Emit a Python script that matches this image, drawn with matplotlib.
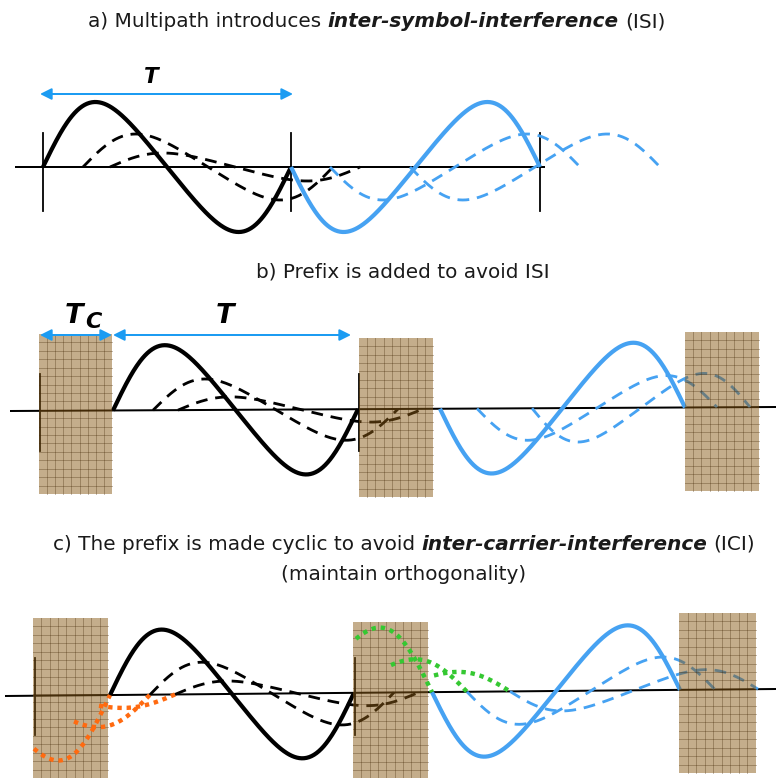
import numpy as np
import matplotlib.pyplot as plt
from matplotlib.patches import Rectangle

W, H = 776, 778

# time axis of each panel: x from, x to, y at left, y at right
axis_a = [15, 545, 167, 167]
axis_b = [10, 776, 411, 407]
axis_c = [5, 776, 696, 689]

# symbol boundary ticks: x positions, y from, y to
ticks_a = [43, 291, 540]
ticks_a_y = [133, 211]
ticks_b = [40, 359]
ticks_b_y = [374, 451]
ticks_c = [35, 355]
ticks_c_y = [658, 735]

# waveforms: start x, period, amplitude (first = direct path, others = delayed echoes)
black_a_start = [43, 83, 110]
black_a_period = [248, 250, 250]
black_a_amp = [65, 33, 14]
blue_a_start = [291, 330, 410]
blue_a_period = [249, 250, 250]
blue_a_amp = [65, 33, 33]

black_b_start = [113, 153, 178]
black_b_period = [245, 245, 245]
black_b_amp = [65, 31, 13]
blue_b_start = [440, 477, 532]
blue_b_period = [245, 240, 218]
blue_b_amp = [65, 32, 34]

black_c_start = [110, 150, 175]
black_c_period = [244, 244, 244]
black_c_amp = [65, 32, 13]
blue_c_start = [432, 467, 510]
blue_c_period = [248, 248, 248]
blue_c_amp = [65, 33, 20]

# cyclic prefix length (px) and guard boxes: x0, x1, y0, y1
cp_len = 76
boxes_b = [[39, 112, 334, 494], [359, 433, 338, 497], [685, 759, 332, 491]]
boxes_c = [[33, 108, 618, 778], [353, 428, 622, 778], [679, 756, 613, 773]]

BLACK = 'black'
BLUE = '#46a2f2'
ARROW = '#1c9cf2'
ORANGE = '#ff6a10'
GREEN = '#35c832'
SKEW = 0.04
PX = 72 / 100  # points per pixel

fig = plt.figure(figsize=(W / 100, H / 100), dpi=100)
ax = fig.add_axes([0, 0, 1, 1])
ax.set_xlim(0, W)
ax.set_ylim(H, 0)
ax.axis('off')
renderer = fig.canvas.get_renderer()


def base(axis, x):
    x0, x1, y0, y1 = axis
    return y0 + (y1 - y0) * (np.asarray(x) - x0) / (x1 - x0)


def wave(axis, start, period, amp, sign, xa, xb, **kw):
    x = np.linspace(xa, xb, 300)
    u = (x - start) / period
    phi = u + SKEW * np.sin(2 * np.pi * u)
    y = base(axis, x) - sign * amp * np.sin(2 * np.pi * phi)
    ax.plot(x, y, **kw)


def draw_axis(axis):
    x0, x1, y0, y1 = axis
    ax.plot([x0, x1], [y0, y1], color='black', lw=2 * PX, zorder=2, solid_capstyle='butt')


def draw_ticks(xs, ys):
    for x in xs:
        ax.plot([x, x], ys, color='black', lw=1.8 * PX, zorder=2)


def draw_group(axis, starts, periods, amps, color, sign):
    for i, (s, p, a) in enumerate(zip(starts, periods, amps)):
        if i == 0:
            wave(axis, s, p, a, sign, s, s + p, color=color, lw=4.2 * PX, zorder=3,
                 solid_capstyle='butt')
        else:
            wave(axis, s, p, a, sign, s, s + p, color=color, lw=2.8 * PX, zorder=3,
                 ls=(0, (4.2, 2.8)))


def draw_prefix(axis, starts, periods, amps, color, sign):
    for s, p, a in zip(starts, periods, amps):
        wave(axis, s, p, a, sign, s - cp_len, s, color=color, lw=4.4 * PX, zorder=7,
             ls=(0, (1, 1.1)), solid_capstyle='butt', dash_capstyle='butt')


def draw_box(x0, x1, y0, y1):
    ax.add_patch(Rectangle((x0, y0), x1 - x0, y1 - y0, facecolor='#8a5c18',
                           edgecolor='none', alpha=0.5, zorder=5))
    ncol = 9
    for gx in np.linspace(x0, x1, ncol + 1)[1:-1]:
        ax.plot([gx, gx], [y0, y1], color='#3f2200', alpha=0.3, lw=1 * PX, zorder=6)
    nrow = int(round((y1 - y0) / 8.3))
    for gy in np.linspace(y0, y1, nrow + 1)[1:-1]:
        ax.plot([x0, x1], [gy, gy], color='#3f2200', alpha=0.3, lw=1 * PX, zorder=6)


def arrow(xa, xb, y):
    ax.annotate('', xy=(xb, y), xytext=(xa, y),
                arrowprops=dict(arrowstyle='<|-|>', color=ARROW, lw=2 * PX,
                                mutation_scale=17, shrinkA=0, shrinkB=0), zorder=8)


def rich(parts, xc, y, size):
    texts = []
    for s, em in parts:
        t = ax.text(0, y, s, fontsize=size, va='baseline', ha='left',
                    fontweight='bold' if em else 'normal',
                    fontstyle='italic' if em else 'normal', color='#1a1a1a')
        texts.append(t)
    gap = 0.318 * size / PX
    widths = [t.get_window_extent(renderer).width for t in texts]
    total = sum(widths) + gap * (len(texts) - 1)
    x = xc - total / 2
    for t, w in zip(texts, widths):
        t.set_x(x)
        x += w + gap


TS = 14.4

# ---- a) ----
rich([('a) Multipath introduces', False), ('inter-symbol-interference', True), ('(ISI)', False)],
     377, 27, TS)
draw_axis(axis_a)
draw_ticks(ticks_a, ticks_a_y)
draw_group(axis_a, black_a_start, black_a_period, black_a_amp, BLACK, 1)
draw_group(axis_a, blue_a_start, blue_a_period, blue_a_amp, BLUE, -1)
arrow(40, 293, 94)
ax.text(151, 83, 'T', fontsize=15.5, fontweight='bold', fontstyle='italic',
        ha='center', va='baseline')

# ---- b) ----
rich([('b) Prefix is added to avoid ISI', False)], 403, 277, TS)
draw_axis(axis_b)
draw_ticks(ticks_b, ticks_b_y)
draw_group(axis_b, black_b_start, black_b_period, black_b_amp, BLACK, 1)
draw_group(axis_b, blue_b_start, blue_b_period, blue_b_amp, BLUE, -1)
for bx in boxes_b:
    draw_box(*bx)
arrow(40, 112, 335)
arrow(113, 351, 335)
ax.text(74, 323, 'T', fontsize=19.5, fontweight='bold', fontstyle='italic',
        ha='center', va='baseline')
ax.text(85, 328, 'C', fontsize=16, fontweight='bold', fontstyle='italic',
        ha='left', va='baseline')
ax.text(225, 323, 'T', fontsize=19.5, fontweight='bold', fontstyle='italic',
        ha='center', va='baseline')

# ---- c) ----
rich([('c) The prefix is made cyclic to avoid', False), ('inter-carrier-interference', True),
      ('(ICI)', False)], 404, 550, TS)
rich([('(maintain orthogonality)', False)], 404, 580, TS)
draw_axis(axis_c)
draw_ticks(ticks_c, ticks_c_y)
draw_group(axis_c, black_c_start, black_c_period, black_c_amp, BLACK, 1)
draw_group(axis_c, blue_c_start, blue_c_period, blue_c_amp, BLUE, -1)
for bx in boxes_c:
    draw_box(*bx)
draw_prefix(axis_c, black_c_start, black_c_period, black_c_amp, ORANGE, 1)
draw_prefix(axis_c, blue_c_start, blue_c_period, blue_c_amp, GREEN, -1)

fig.savefig('out.png', dpi=100)
